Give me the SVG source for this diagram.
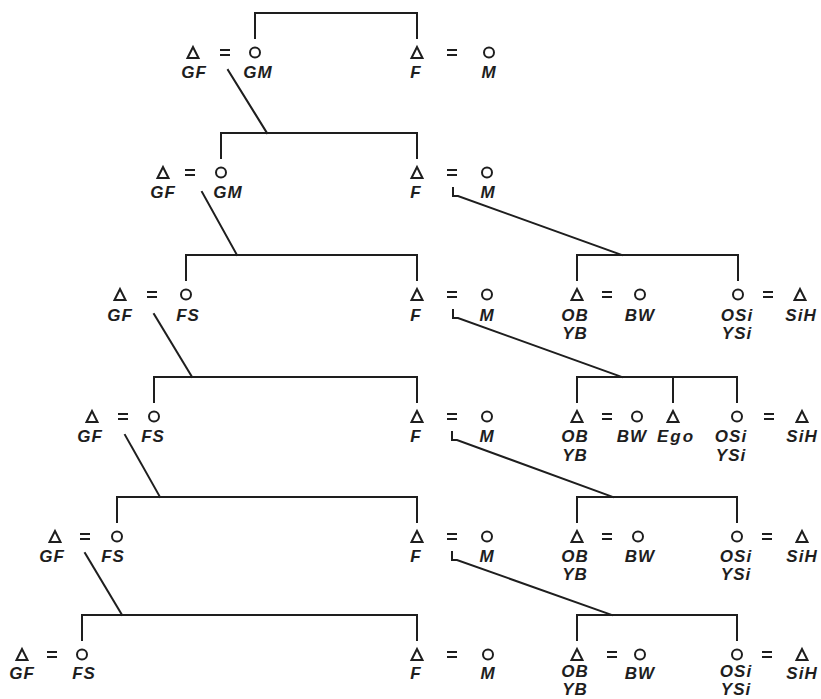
<svg xmlns="http://www.w3.org/2000/svg" width="821" height="699" viewBox="0 0 821 699">
<defs>
<style>
.ln{stroke:#1e1e1e;stroke-width:2;fill:none;stroke-linecap:square}
.s{stroke:#1e1e1e;stroke-width:2;fill:none}
text{font-family:"Liberation Sans",Arial,sans-serif;font-style:italic;font-weight:bold;font-size:17px;fill:#1e1e1e;text-anchor:middle;letter-spacing:1px}
</style>
<polygon id="tri" class="s" points="-5.5,11 0,0 5.5,11" stroke-linejoin="miter"/>
<circle id="cir" class="s" cx="0" cy="5.5" r="5"/>
</defs>
<rect width="821" height="699" fill="#ffffff"/>
<g id="connectors">
<!-- sibling brackets -->
<path class="ln" d="M255,38 V13 H417 V38"/>
<path class="ln" d="M221,158 V133 H417 V158"/>
<path class="ln" d="M186,280 V255 H417 V280"/>
<path class="ln" d="M577,280 V255 H738 V280"/>
<path class="ln" d="M154,402 V377 H417 V402"/>
<path class="ln" d="M577,402 V377 H737 V402 M673,377 V402"/>
<path class="ln" d="M117,522 V497 H417 V522"/>
<path class="ln" d="M577,522 V497 H737 V522"/>
<path class="ln" d="M82,640 V615 H417 V640"/>
<path class="ln" d="M577,640 V615 H737 V640"/>
<!-- descent lines -->
<path class="ln" d="M228,70 L267,133"/>
<path class="ln" d="M202,192 L237,255"/>
<path class="ln" d="M154,314 L192,377"/>
<path class="ln" d="M125,435 L160,497"/>
<path class="ln" d="M85,553 L122,615"/>
<path class="ln" d="M453,188 V196 H458 L622,255"/>
<path class="ln" d="M453,310 V318 H458 L622,377"/>
<path class="ln" d="M452,432 V440 H457 L613,497"/>
<path class="ln" d="M452,552 V560 H457 L612,615"/>
<!-- marriage signs -->
<g class="s">
<path d="M220,50 h10 M220,55 h10 M447,50 h10 M447,55 h10"/>
<path d="M185,170 h10 M185,175 h10 M447,170 h10 M447,175 h10"/>
<path d="M147,292 h10 M147,297 h10 M447,292 h10 M447,297 h10 M602,292 h10 M602,297 h10 M763,292 h10 M763,297 h10"/>
<path d="M118,414 h10 M118,419 h10 M447,414 h10 M447,419 h10 M602,414 h10 M602,419 h10 M764,414 h10 M764,419 h10"/>
<path d="M80,534 h10 M80,539 h10 M447,534 h10 M447,539 h10 M602,534 h10 M602,539 h10 M762,534 h10 M762,539 h10"/>
<path d="M47,652 h10 M47,657 h10 M447,652 h10 M447,657 h10 M607,652 h10 M607,657 h10 M762,652 h10 M762,657 h10"/>
</g>
</g>
<!-- Row 1 -->
<g id="r1-gf"><use href="#tri" x="193" y="47"/><text x="194" y="78">GF</text></g>
<g id="r1-gm"><use href="#cir" x="255" y="47"/><text x="258" y="78">GM</text></g>
<g id="r1-f"><use href="#tri" x="417" y="47"/><text x="416" y="78">F</text></g>
<g id="r1-m"><use href="#cir" x="489" y="47"/><text x="489" y="78">M</text></g>
<!-- Row 2 -->
<g id="r2-gf"><use href="#tri" x="163" y="167"/><text x="163" y="198">GF</text></g>
<g id="r2-gm"><use href="#cir" x="221" y="167"/><text x="228" y="198">GM</text></g>
<g id="r2-f"><use href="#tri" x="417" y="167"/><text x="416" y="198">F</text></g>
<g id="r2-m"><use href="#cir" x="487" y="167"/><text x="488" y="198">M</text></g>
<!-- Row 3 -->
<g id="r3-gf"><use href="#tri" x="120" y="289"/><text x="120" y="321">GF</text></g>
<g id="r3-fs"><use href="#cir" x="186" y="289"/><text x="188" y="321">FS</text></g>
<g id="r3-f"><use href="#tri" x="417" y="289"/><text x="416" y="321">F</text></g>
<g id="r3-m"><use href="#cir" x="487" y="289"/><text x="487" y="321">M</text></g>
<g id="r3-ob"><use href="#tri" x="577" y="289"/><text x="575" y="321">OB</text><text x="575" y="339">YB</text></g>
<g id="r3-bw"><use href="#cir" x="640" y="289"/><text x="640" y="321">BW</text></g>
<g id="r3-osi"><use href="#cir" x="738" y="289"/><text x="737" y="321">OSi</text><text x="737" y="339">YSi</text></g>
<g id="r3-sih"><use href="#tri" x="800" y="289"/><text x="801" y="321">SiH</text></g>
<!-- Row 4 -->
<g id="r4-gf"><use href="#tri" x="92" y="411"/><text x="90" y="442">GF</text></g>
<g id="r4-fs"><use href="#cir" x="154" y="411"/><text x="153" y="442">FS</text></g>
<g id="r4-f"><use href="#tri" x="417" y="411"/><text x="416" y="442">F</text></g>
<g id="r4-m"><use href="#cir" x="487" y="411"/><text x="487" y="442">M</text></g>
<g id="r4-ob"><use href="#tri" x="577" y="411"/><text x="575" y="442">OB</text><text x="575" y="461">YB</text></g>
<g id="r4-bw"><use href="#cir" x="637" y="411"/><text x="632" y="442">BW</text></g>
<g id="r4-ego"><use href="#tri" x="673" y="411"/><text x="676" y="442" style="letter-spacing:2px">Ego</text></g>
<g id="r4-osi"><use href="#cir" x="737" y="411"/><text x="731" y="442">OSi</text><text x="731" y="461">YSi</text></g>
<g id="r4-sih"><use href="#tri" x="802" y="411"/><text x="802" y="442">SiH</text></g>
<!-- Row 5 -->
<g id="r5-gf"><use href="#tri" x="55" y="531"/><text x="52" y="562">GF</text></g>
<g id="r5-fs"><use href="#cir" x="117" y="531"/><text x="113" y="562">FS</text></g>
<g id="r5-f"><use href="#tri" x="417" y="531"/><text x="416" y="562">F</text></g>
<g id="r5-m"><use href="#cir" x="487" y="531"/><text x="487" y="562">M</text></g>
<g id="r5-ob"><use href="#tri" x="577" y="531"/><text x="575" y="562">OB</text><text x="575" y="580">YB</text></g>
<g id="r5-bw"><use href="#cir" x="638" y="531"/><text x="640" y="562">BW</text></g>
<g id="r5-osi"><use href="#cir" x="737" y="531"/><text x="736" y="562">OSi</text><text x="736" y="580">YSi</text></g>
<g id="r5-sih"><use href="#tri" x="802" y="531"/><text x="802" y="562">SiH</text></g>
<!-- Row 6 -->
<g id="r6-gf"><use href="#tri" x="22" y="649"/><text x="22" y="679">GF</text></g>
<g id="r6-fs"><use href="#cir" x="82" y="649"/><text x="84" y="679">FS</text></g>
<g id="r6-f"><use href="#tri" x="417" y="649"/><text x="416" y="679">F</text></g>
<g id="r6-m"><use href="#cir" x="488" y="649"/><text x="488" y="679">M</text></g>
<g id="r6-ob"><use href="#tri" x="577" y="649"/><text x="575" y="677">OB</text><text x="575" y="695">YB</text></g>
<g id="r6-bw"><use href="#cir" x="640" y="649"/><text x="640" y="679">BW</text></g>
<g id="r6-osi"><use href="#cir" x="737" y="649"/><text x="736" y="677">OSi</text><text x="736" y="695">YSi</text></g>
<g id="r6-sih"><use href="#tri" x="802" y="649"/><text x="802" y="679">SiH</text></g>
</svg>
